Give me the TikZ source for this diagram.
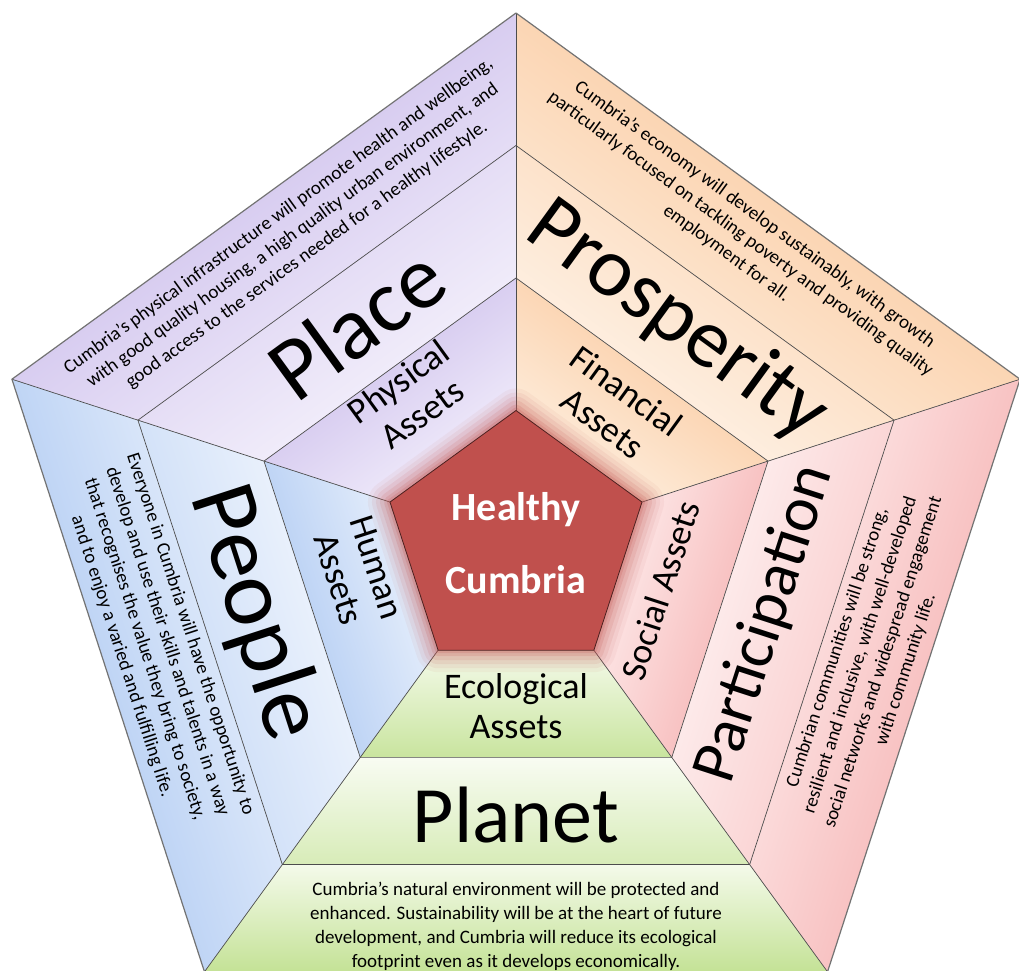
\documentclass[tikz,border=0pt]{standalone}
\usepackage{fontspec}
\setmainfont{Carlito}
\usetikzlibrary{calc}
\begin{document}
\begin{tikzpicture}[x=1pt,y=1pt,
  sep/.style={draw=black!70, line width=0.7pt},
  desctext/.style={font=\fontsize{19}{24}\selectfont, align=center, inner sep=0pt, text=black},
  titletext/.style={font=\fontsize{80}{84}\selectfont, inner sep=0pt},
  assettext/.style={font=\fontsize{36}{40}\selectfont, align=center, inner sep=0pt},
  centertext/.style={font=\bfseries\fontsize{40}{73}\selectfont, align=center, text=white, inner sep=0pt},
]
\definecolor{plD}{RGB}{192,175,230}
\definecolor{plL}{RGB}{244,240,252}
\definecolor{prD}{RGB}{249,190,140}
\definecolor{prL}{RGB}{254,240,225}
\definecolor{peD}{RGB}{160,192,240}
\definecolor{peL}{RGB}{240,245,253}
\definecolor{paD}{RGB}{244,165,165}
\definecolor{paL}{RGB}{254,240,240}
\definecolor{pnD}{RGB}{196,226,150}
\definecolor{pnL}{RGB}{244,250,234}
\definecolor{core}{RGB}{192,80,77}

\path[use as bounding box] (-516,-427) rectangle (503,543);
\fill[white] (-516,-427) rectangle (503,543);

% bands
\foreach \a/\D/\L in {18/prD/prL, 90/plD/plL, 162/peD/peL, 234/pnD/pnL, 306/paD/paL}{
  \pgfmathsetmacro{\b}{\a+72}
  \pgfmathsetmacro{\n}{\a+36-270}
  \shade[top color=\L, bottom color=\D!90!\L, shading angle=\n] (\a:132.5) -- (\a:265) -- (\b:265) -- (\b:132.5) -- cycle;
  \shade[top color=\L!60!white, bottom color=\D!60!\L, shading angle=\n] (\a:265) -- (\a:397.5) -- (\b:397.5) -- (\b:265) -- cycle;
  \shade[top color=\L, bottom color=\D, shading angle=\n] (\a:397.5) -- (\a:530) -- (\b:530) -- (\b:397.5) -- cycle;
}

\foreach \r in {265,397.5}
  \draw[sep] (90:\r) -- (162:\r) -- (234:\r) -- (306:\r) -- (18:\r) -- cycle;
\foreach \a in {18,90,162,234,306}
  \draw[sep] (\a:132.5) -- (\a:530);
\draw[draw=black!55, line width=1.2pt, line join=round] (90:530) -- (162:530) -- (234:530) -- (306:530) -- (18:530) -- cycle;

% glow and core
\foreach \w/\o in {44/0.06, 36/0.08, 28/0.1, 20/0.13, 12/0.17, 6/0.2}
  \draw[core, line width=\w pt, opacity=\o, line join=round] (90:132.5) -- (162:132.5) -- (234:132.5) -- (306:132.5) -- (18:132.5) -- cycle;
\fill[core, draw=black!60!core, line width=0.8pt, line join=round] (90:132.5) -- (162:132.5) -- (234:132.5) -- (306:132.5) -- (18:132.5) -- cycle;
\node[centertext] (core) at (0,0) {Healthy\\Cumbria};

% Place
\node[assettext, rotate=36] (physical) at (126:180) {Physical\\Assets};
\node[titletext, rotate=36, font=\fontsize{90}{94}\selectfont] (place) at (126:272) {Place};
\node[desctext, rotate=36] (placedesc) at (126:380) {Cumbria’s physical infrastructure will promote health and wellbeing,\\with good quality housing, a high quality urban environment, and\\good access to the services needed for a healthy lifestyle.};

% Prosperity
\node[assettext, rotate=-36] (financial) at (54:168) {Financial\\Assets};
\node[titletext, rotate=-36, font=\fontsize{84}{88}\selectfont] (prosperity) at (54:274) {Prosperity};
\node[desctext, rotate=-36] (prosdesc) at (54:382) {Cumbria’s economy will develop sustainably, with growth\\particularly focused on tackling poverty and providing quality\\employment for all.};

% People
\node[assettext, rotate=-72] (human) at ($(198:160)+(108:20)$) {Human\\Assets};
\node[titletext, rotate=-72, font=\fontsize{94}{98}\selectfont] (people) at ($(198:270)+(108:14)$) {People};
\node[desctext, rotate=-72] (peopledesc) at ($(198:374)+(108:14)$) {Everyone in Cumbria will have the opportunity to\\develop and use their skills and talents in a way\\that recognises the value they bring to society,\\and to enjoy a varied and fulfilling life.};

% Participation
\node[assettext, rotate=72] (social) at (342:152) {Social Assets};
\node[titletext, rotate=72, font=\fontsize{64}{68}\selectfont] (participation) at (342:262) {Participation};
\node[desctext, rotate=72] (partdesc) at (342:374) {Cumbrian communities will be strong,\\resilient and inclusive, with well-developed\\social networks and widespread engagement\\with community life.};

% Planet
\node[assettext] (ecological) at (270:163) {Ecological\\Assets};
\node[titletext] (planet) at (270:272) {Planet};
\node[desctext] (planetdesc) at (270:383) {Cumbria’s natural environment will be protected and\\enhanced. Sustainability will be at the heart of future\\development, and Cumbria will reduce its ecological\\footprint even as it develops economically.};
\end{tikzpicture}
\end{document}
